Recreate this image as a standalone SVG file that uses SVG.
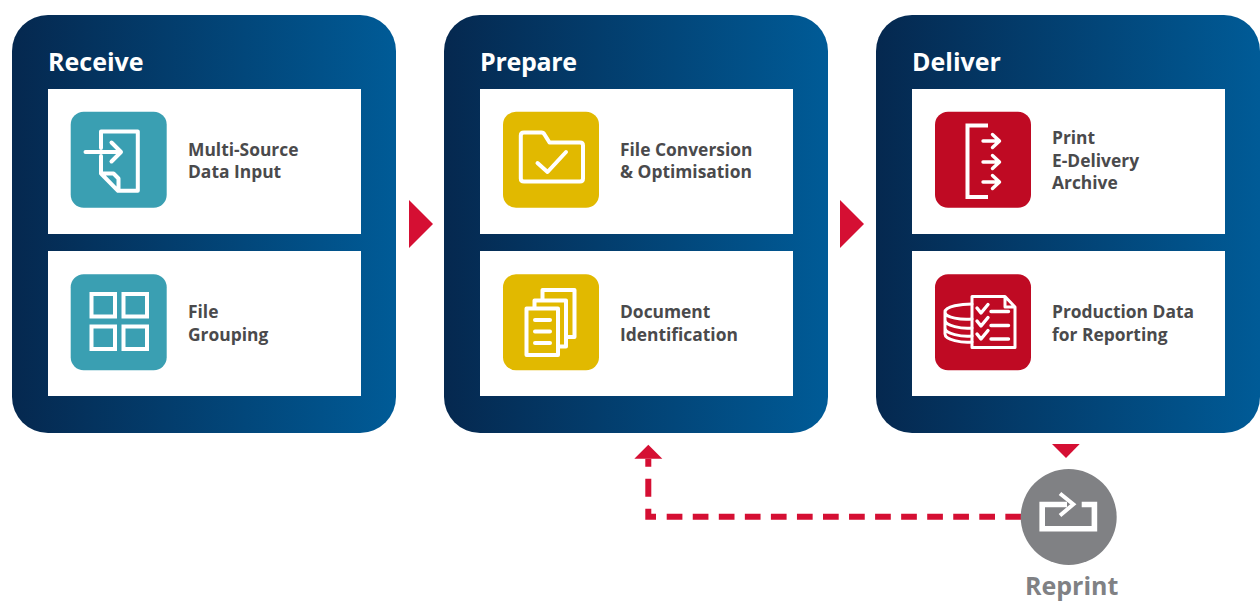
<svg xmlns="http://www.w3.org/2000/svg" width="1260" height="601" viewBox="0 0 1260 601">
<style>
.panel{fill:url(#pg)}
.card{fill:#fff}
.h{font:700 25px "Open Sans","Noto Sans",sans-serif;fill:#fff}
.l{font:700 17.400px "Open Sans","Noto Sans",sans-serif;fill:#4a4a4c}
.ic{fill:none;stroke:#fff;stroke-width:4}
.teal{fill:#3a9fb2}.gold{fill:#e1b900}.red{fill:#bf0a23}
.tri{fill:#d50f33}
.conn{fill:none;stroke:#d50f33;stroke-width:6}
</style>
<defs>
<linearGradient id="pg" x1="0" x2="1" y1="0" y2="0"><stop offset="0" stop-color="#05284f"/><stop offset="1" stop-color="#005b97"/></linearGradient>
</defs>
<g id="receive">
<rect class="panel" x="12" y="15" width="384" height="418" rx="36"/>
<text class="h" x="48" y="71">Receive</text>
<rect class="card" x="48" y="89" width="313" height="145"/>
<rect class="card" x="48" y="251" width="313" height="145"/>
<g id="multi-source">
<rect class="teal" x="70.700" y="111.700" width="96" height="96" rx="13"/>
<path class="ic" d="M101 148V131.500H137.800V190.800H118L101 173.500V156M101 173.500H113.500L118.500 178.500V190.800M85.500 152H120.500M111.500 142.500L121 152L111.500 161.500" stroke-linecap="round" stroke-linejoin="round"/>
<text class="l" x="188" y="156">Multi-Source</text><text class="l" x="188" y="178">Data Input</text>
</g>
<g id="file-grouping">
<rect class="teal" x="70.700" y="274.300" width="96" height="96" rx="13"/>
<path class="ic" d="M91.500 294H115V316.500H91.500ZM123.500 294H147V316.500H123.500ZM91.500 326.500H115V349H91.500ZM123.500 326.500H147V349H123.500Z"/>
<text class="l" x="188" y="318">File</text><text class="l" x="188" y="341">Grouping</text>
</g>
</g>
<g id="prepare">
<rect class="panel" x="444" y="15" width="384" height="418" rx="36"/>
<text class="h" x="480" y="71" letter-spacing="-0.3">Prepare</text>
<rect class="card" x="480" y="89" width="313" height="145"/>
<rect class="card" x="480" y="251" width="313" height="145"/>
<g id="file-conversion">
<rect class="gold" x="503" y="111.700" width="96" height="96" rx="13"/>
<path class="ic" d="M524 132.500H541.500Q543.500 132.500 544.500 134.500L549.500 142.500H580Q583 142.500 583 145.500V178.500Q583 181.500 580 181.500H524Q520.800 181.500 520.800 178.500V135.500Q520.800 132.500 524 132.500ZM537.500 163L547.500 172L566 152" stroke-linecap="round" stroke-linejoin="round"/>
<text class="l" x="620" y="156">File Conversion</text><text class="l" x="620" y="178">&amp; Optimisation</text>
</g>
<g id="document-id">
<rect class="gold" x="503" y="274.300" width="96" height="96" rx="13"/>
<path class="ic" d="M526.500 308.500H558V355H526.500ZM534.500 308.500V300.500H566V346.500H558M542.500 300.500V290H574.500V337H566M535 320H550M535 331.500H550M535 343H550" stroke-linecap="round" stroke-linejoin="round"/>
<text class="l" x="620" y="318">Document</text><text class="l" x="620" y="341">Identification</text>
</g>
</g>
<g id="deliver">
<rect class="panel" x="876" y="15" width="384" height="418" rx="36"/>
<text class="h" x="912" y="71">Deliver</text>
<rect class="card" x="912" y="89" width="313" height="145"/>
<rect class="card" x="912" y="251" width="313" height="145"/>
<g id="print">
<rect class="red" x="935" y="111.700" width="96" height="96" rx="13"/>
<path class="ic" d="M988 125.500H967.500V197H988"/>
<path class="ic" style="stroke-width:3.400" d="M983 141H999M992.500 134.500L999.500 141L992.500 147.500M983 162H999M992.500 155.500L999.500 162L992.500 168.500M983 182H999M992.500 175.500L999.500 182L992.500 188.500" stroke-linecap="round" stroke-linejoin="round"/>
<text class="l" x="1052" y="144">Print</text><text class="l" x="1052" y="167">E-Delivery</text><text class="l" x="1052" y="189">Archive</text>
</g>
<g id="production-data">
<rect class="red" x="935" y="274.300" width="96" height="96" rx="13"/>
<path class="ic" style="stroke-width:3" d="M972 296.500H1005L1015 307V347.500H972ZM1005 296.500V307H1015" stroke-linejoin="round"/>
<path class="ic" style="stroke-width:3" d="M972 304C962 304 945 306 945 312V334C945 340 962 343 972 342M945 312C945 318 962 320 972 319M945 320C945 326 962 329 972 328M945 328C945 334 962 337 972 336" stroke-linecap="round"/>
<path class="ic" style="stroke-width:3.400" d="M977 308L981 313L988 304.500M977 321L981 326L988 317.500M977 334L981 339L988 330.500M991 311.500H1008.500M991 325.500H1008.500M991 339H1008.500" stroke-linecap="round" stroke-linejoin="round"/>
<text class="l" x="1052" y="318">Production Data</text><text class="l" x="1052" y="341">for Reporting</text>
</g>
</g>
<g id="connectors">
<path class="tri" d="M409 200L433 224L409 248Z"/>
<path class="tri" d="M840 200L864 224L840 248Z"/>
<path class="tri" d="M1052 444H1079.700L1066 458Z"/>
<path class="tri" d="M648.300 444.700L662.300 458.700H634.300Z"/>
<path class="conn" stroke-dasharray="8 12 18 12 16" d="M648.300 458.700V516.700H656"/>
<path class="conn" stroke-dasharray="15.700 10.350" d="M666.700 516.700H1021"/>
</g>
<g id="reprint">
<circle cx="1068.700" cy="517" r="48" fill="#808184"/>
<path fill="none" stroke="#fff" stroke-width="5.600" d="M1067 504.500H1042.200V528.800H1094.400V504.500H1081.700"/>
<path fill="none" stroke="#fff" stroke-width="4" d="M1060 493.500L1073.300 504.300L1060 515.500"/>
<text x="1025" y="595" style="font:700 25px 'Open Sans','Noto Sans',sans-serif;fill:#808184">Reprint</text>
</g>
</svg>
